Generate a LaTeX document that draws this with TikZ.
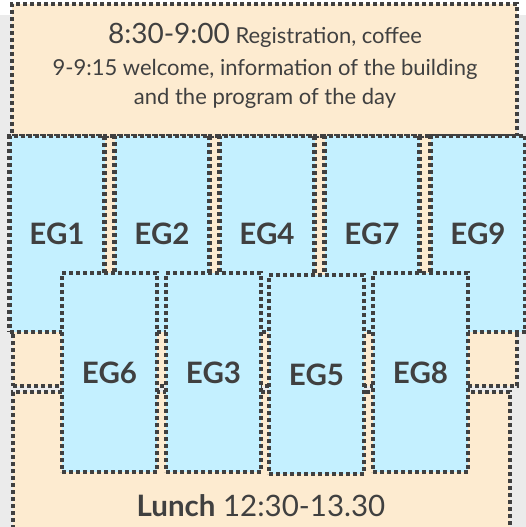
\documentclass[tikz,border=0pt]{standalone}
\usepackage{fontspec}
\setmainfont{Lato}
\usetikzlibrary{positioning}
\definecolor{peach}{HTML}{FDEBD0}
\definecolor{skyblue}{HTML}{C4F0FF}
\definecolor{inkgrey}{HTML}{404040}
\definecolor{pagegrey}{HTML}{EBEBEB}
\tikzset{
  slot/.style={rectangle,inner sep=0pt,draw=inkgrey,line width=4.2pt,dash pattern=on 4pt off 3pt},
  session/.style={slot,fill=peach},
  group/.style={slot,fill=skyblue,minimum width=95pt,text=inkgrey,font=\bfseries\fontsize{29.5}{32}\selectfont},
  upper/.style={group,minimum height=196pt},
  lower/.style={group,minimum height=199pt},
  info/.style={anchor=base,text=inkgrey,font=\fontsize{22}{24}\selectfont},
}

\begin{document}
\begin{tikzpicture}[x=1pt,y=-1pt]
\clip (0,0) rectangle (526,527);
\fill[pagegrey] (0,15) rectangle (526,527);
% sessions
\node[session,minimum width=504pt,minimum height=250pt] (break) at (265,261) {};
\node[session,minimum width=497pt,minimum height=168pt] (lunch) at (261.5,476) {};
\node[session,minimum width=505pt,minimum height=132pt] (welcome) at (264.5,70) {};
\node[info] (line1) at (265,44) {{\fontsize{28}{30}\selectfont 8:30-9:00} Registration, coffee};
\node[info] (line2) at (265,75) {9-9:15 welcome, information of the building};
\node[info] (line3) at (265,104) {and the program of the day};
\node[info,font=\fontsize{29.5}{32}\selectfont] (lunchtext) at (261,516) {\textbf{Lunch} 12:30-13.30};
% groups, first row
\node[upper] (EG1) at (57,234) {EG1};
\node[upper] (EG2) at (162,234) {EG2};
\node[upper] (EG4) at (267,234) {EG4};
\node[upper] (EG7) at (372,234) {EG7};
\node[upper] (EG9) at (478,234) {EG9};
% groups, second row
\node[lower] (EG6) at (109.5,372.5) {EG6};
\node[lower] (EG3) at (213.5,372.5) {EG3};
\node[lower] (EG5) at (316.5,374.5) {EG5};
\node[lower] (EG8) at (420.5,372.5) {EG8};
\end{tikzpicture}
\end{document}
